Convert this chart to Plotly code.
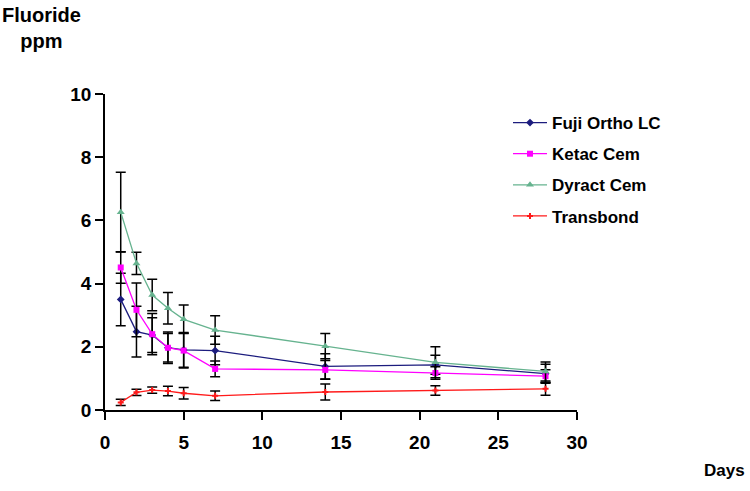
import plotly.graph_objects as go

days = [1, 2, 3, 4, 5, 7, 14, 21, 28]

fuji = [3.50, 2.48, 2.37, 1.97, 1.90, 1.88, 1.38, 1.43, 1.15]
fuji_err = [0.83, 0.80, 0.55, 0.45, 0.55, 0.45, 0.40, 0.30, 0.30]

ketac = [4.51, 3.17, 2.40, 1.97, 1.88, 1.30, 1.27, 1.17, 1.07]
ketac_err = [0.50, 0.85, 0.65, 0.50, 0.55, 0.25, 0.30, 0.20, 0.20]

dyract = [6.26, 4.64, 3.64, 3.22, 2.87, 2.53, 2.02, 1.51, 1.22]
dyract_err = [1.26, 0.35, 0.50, 0.50, 0.45, 0.45, 0.40, 0.49, 0.30]

transbond = [0.24, 0.56, 0.63, 0.60, 0.53, 0.45, 0.57, 0.62, 0.67]
transbond_err = [0.10, 0.10, 0.10, 0.15, 0.18, 0.15, 0.25, 0.15, 0.20]

names = ["Fuji Ortho LC", "Ketac Cem", "Dyract Cem", "Transbond"]
series = [fuji, ketac, dyract, transbond]
errors = [fuji_err, ketac_err, dyract_err, transbond_err]
colors = ["#1c1c7e", "#ff00ff", "#66b38f", "#ff1a1a"]
symbols = ["diamond", "square", "triangle-up", "cross"]
sizes = [6, 6, 7, 5]

FONT = "Liberation Sans, Arial, sans-serif"

fig = go.Figure()
for name, ys, es, c, s, sz in zip(names, series, errors, colors, symbols, sizes):
    fig.add_trace(go.Scatter(
        x=days, y=ys, name=name, mode="lines+markers",
        line=dict(color=c, width=1.3),
        marker=dict(color=c, symbol=s, size=sz),
        error_y=dict(type="data", array=es, visible=True, color="black",
                     thickness=1.5, width=5),
        legendgroup=name,
    ))

L, T, PW, PH = 105, 94, 472, 316

fig.update_layout(
    width=750, height=491,
    margin=dict(l=L, r=750 - L - PW, t=T, b=491 - T - PH),
    paper_bgcolor="white", plot_bgcolor="white",
    font=dict(family=FONT, size=16, color="black"),
    showlegend=True,
    legend=dict(x=(508 - L) / PW, y=0.965, xanchor="left", yanchor="top",
                bgcolor="rgba(0,0,0,0)", tracegroupgap=6, itemwidth=34,
                font=dict(family=FONT, size=17, color="black", weight="bold")),
    xaxis=dict(range=[0, 30], dtick=5, tick0=0, showgrid=False, zeroline=False,
               showline=True, linecolor="black", linewidth=1.5,
               ticks="outside", ticklen=8, tickcolor="black", tickwidth=1.5,
               ticklabelstandoff=6,
               tickfont=dict(family=FONT, size=19, color="black", weight="bold")),
    yaxis=dict(range=[0, 10], dtick=2, tick0=0, showgrid=False, zeroline=False,
               showline=True, linecolor="black", linewidth=1.5,
               ticks="outside", ticklen=8, tickcolor="black", tickwidth=1.5,
               tickfont=dict(family=FONT, size=19, color="black", weight="bold")),
    annotations=[
        dict(text="Fluoride<br>ppm", xref="paper", yref="paper",
             x=(0 - L) / PW, y=(T + PH - 2) / PH, xanchor="left", yanchor="top",
             showarrow=False, align="center",
             font=dict(family=FONT, size=20, color="black", weight="bold")),
        dict(text="Days", xref="paper", yref="paper",
             x=(747 - L) / PW, y=(T + PH - 470) / PH, xanchor="right", yanchor="middle",
             showarrow=False,
             font=dict(family=FONT, size=17, color="black", weight="bold")),
    ],
)

fig.write_html("out.html", config={"displayModeBar": False},
               post_script="document.body.style.margin='0';")
